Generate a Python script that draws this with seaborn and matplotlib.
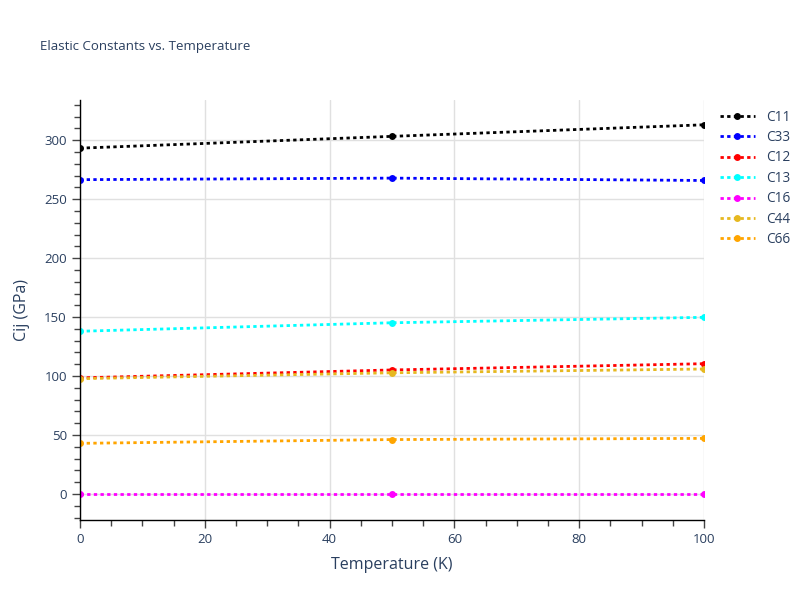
import pandas as pd
import matplotlib.pyplot as plt
import seaborn as sns
from matplotlib.ticker import MultipleLocator

# Elastic constants (GPa)
temperature = [0, 50, 100]
c11 = [293.2, 303.2, 313.0]
c33 = [266.5, 267.8, 265.8]
c12 = [98.5, 105.2, 110.5]
c13 = [138.0, 145.2, 149.8]
c16 = [0.0, 0.0, 0.0]
c44 = [97.8, 102.8, 106.0]
c66 = [43.0, 46.2, 47.2]

names = ['C11', 'C33', 'C12', 'C13', 'C16', 'C44', 'C66']
colors = ['black', 'blue', 'red', 'cyan', 'magenta', '#e6b820', 'orange']

rows = []
for name, vals in zip(names, [c11, c33, c12, c13, c16, c44, c66]):
    for t, v in zip(temperature, vals):
        rows.append({'Temperature (K)': t, 'Cij (GPa)': v, 'const': name})
df = pd.DataFrame(rows)

sns.set_style('white')
plt.rcParams['font.family'] = ['Open Sans', 'DejaVu Sans']
text_col = '#2a3f5f'

fig = plt.figure(figsize=(8, 6), dpi=100)
ax = fig.add_axes([0.1, 0.1333, 0.78, 0.7])

sns.lineplot(data=df, x='Temperature (K)', y='Cij (GPa)', hue='const',
             hue_order=names, palette=dict(zip(names, colors)),
             marker='o', markersize=5, markeredgewidth=0, linewidth=2,
             ax=ax, legend=False)
for line in ax.lines:
    line.set_linestyle((0, (1.2, 1.2)))

ax.set_xlim(0, 100)
ax.set_ylim(-22, 334)
ax.xaxis.set_major_locator(MultipleLocator(20))
ax.xaxis.set_minor_locator(MultipleLocator(5))
ax.yaxis.set_major_locator(MultipleLocator(50))
ax.yaxis.set_minor_locator(MultipleLocator(10))
ax.grid(True, which='major', color='#e0e0e0', linewidth=1)
ax.set_axisbelow(True)
for s in ['top', 'right']:
    ax.spines[s].set_visible(False)
for s in ['left', 'bottom']:
    ax.spines[s].set_color('black')
    ax.spines[s].set_linewidth(1)
ax.tick_params(which='major', direction='out', length=6, width=1, color='#444444',
               labelcolor=text_col, labelsize=9.5, left=True, bottom=True)
ax.tick_params(which='minor', direction='out', length=4, width=1, color='#444444',
               left=True, bottom=True)

ax.set_xlabel('Temperature (K)', color=text_col, fontsize=11.5, labelpad=8)
ax.set_ylabel('Cij (GPa)', color=text_col, fontsize=11.5, labelpad=10)
fig.text(0.05, 0.923, 'Elastic Constants vs. Temperature', color=text_col,
         fontsize=9.5, va='center')

# legend entries drawn from the same lines
handles = ax.lines[:len(names)]
leg = ax.legend(handles, names, loc='upper left', bbox_to_anchor=(1.01, 1.0),
                frameon=False, fontsize=9.8, handlelength=2.6,
                labelspacing=0.4, borderaxespad=0.3)
for t in leg.get_texts():
    t.set_color(text_col)

fig.savefig('out.png', dpi=100)
